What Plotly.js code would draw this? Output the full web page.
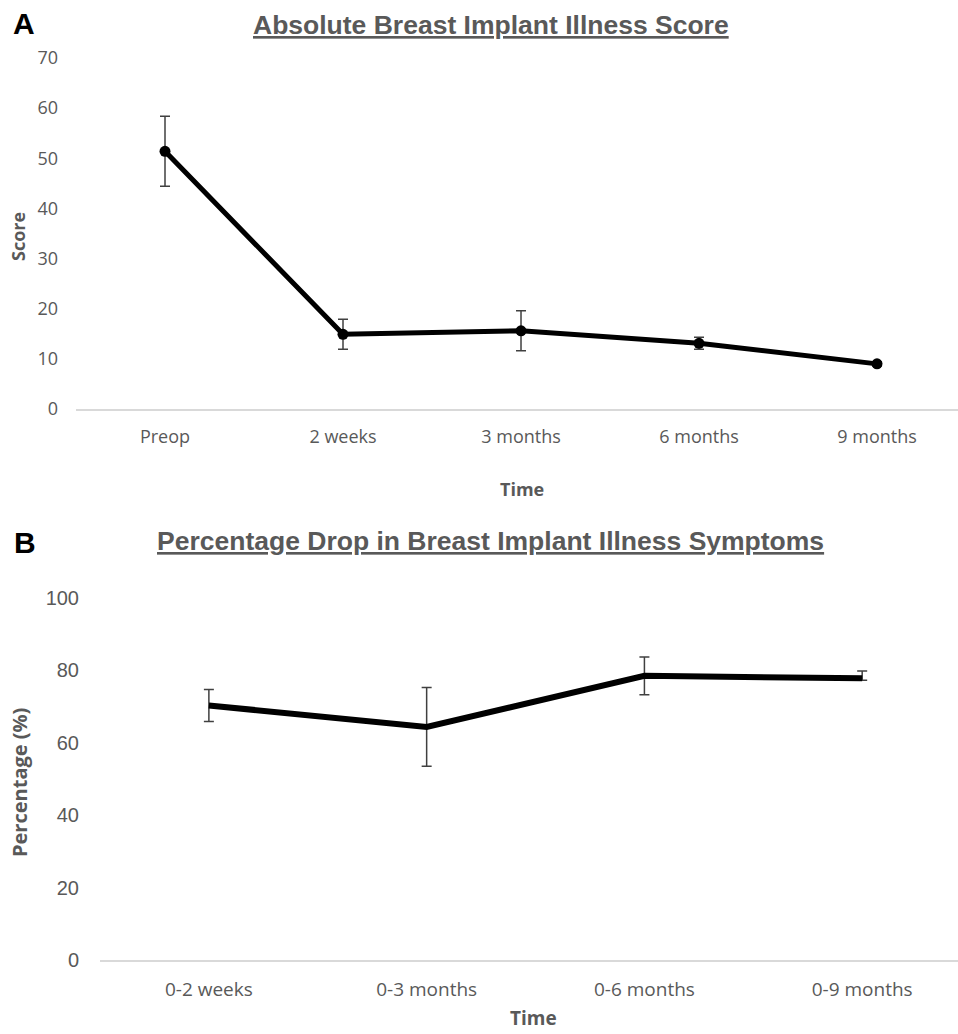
<!DOCTYPE html>
<html>
<head>
<meta charset="utf-8">
<script src="https://cdn.plot.ly/plotly-3.0.1.min.js"></script>
<style>html,body{margin:0;padding:0;background:#fff;}#chart{width:958px;height:1034px;}</style>
</head>
<body>
<div id="chart"></div>
<script>
const catsA = ['Preop', '2 weeks', '3 months', '6 months', '9 months'];
const scoreA = [51.4, 14.9, 15.6, 13.1, 9.0];
const errA = [7.0, 3.0, 4.0, 1.2, 0.4];
const ticksA = [0, 10, 20, 30, 40, 50, 60, 70];

const catsB = ['0-2 weeks', '0-3 months', '0-6 months', '0-9 months'];
const pctB = [70.3, 64.4, 78.5, 77.8];
const errBplus = [4.4, 10.9, 5.2, 2.0];
const errBminus = [4.4, 10.9, 5.2, 0.5];
const ticksB = [0, 20, 40, 60, 80, 100];

const W = 958, H = 1034;
const py = px => 1 - px / H;
const pxx = px => px / W;
const gray = '#595959';

const traces = [
  {
    x: catsA, y: scoreA, type: 'scatter', mode: 'lines+markers',
    xaxis: 'x', yaxis: 'y',
    line: {color: '#000', width: 5},
    marker: {color: '#000', size: 11},
    error_y: {type: 'data', array: errA, visible: true, color: '#404040', thickness: 1.5, width: 5},
    hoverinfo: 'skip'
  },
  {
    x: catsB, y: pctB, type: 'scatter', mode: 'lines',
    xaxis: 'x2', yaxis: 'y2',
    line: {color: '#000', width: 6},
    error_y: {type: 'data', symmetric: false, array: errBplus, arrayminus: errBminus, visible: true, color: '#404040', thickness: 1.5, width: 5},
    hoverinfo: 'skip'
  }
];

const axisCommon = {showgrid: false, zeroline: false, ticks: '', fixedrange: true};

const layout = {
  width: W, height: H,
  margin: {l: 0, r: 0, t: 0, b: 0},
  paper_bgcolor: '#fff', plot_bgcolor: '#fff',
  showlegend: false,
  xaxis: Object.assign({}, axisCommon, {
    domain: [pxx(76), 1], anchor: 'y', type: 'category',
    range: [-0.5, 4.455],
    showline: true, linecolor: '#d9d9d9', linewidth: 1.5,
    tickfont: {family: 'Open Sans', size: 18, color: gray},
    ticklabelstandoff: 11
  }),
  yaxis: Object.assign({}, axisCommon, {
    domain: [py(409), py(58)], anchor: 'x',
    range: [0, 70], tickvals: ticksA, ticktext: ticksA.map(String),
    showline: false,
    tickfont: {family: 'Open Sans', size: 18, color: gray},
    ticklabelstandoff: 17
  }),
  xaxis2: Object.assign({}, axisCommon, {
    domain: [pxx(100), 1], anchor: 'y2', type: 'category',
    range: [-0.5, 3.44],
    showline: true, linecolor: '#d9d9d9', linewidth: 1.5,
    tickfont: {family: 'Open Sans', size: 19, color: gray},
    ticklabelstandoff: 12
  }),
  yaxis2: Object.assign({}, axisCommon, {
    domain: [py(960), py(598)], anchor: 'x2',
    range: [0, 100], tickvals: ticksB, ticktext: ticksB.map(String),
    showline: false,
    tickfont: {family: 'Liberation Sans, Arial', size: 20, color: gray},
    ticklabelstandoff: 20
  }),
  annotations: [
    {text: '<b>A</b>', x: pxx(11), y: py(24), xref: 'paper', yref: 'paper', xanchor: 'left', yanchor: 'middle', showarrow: false,
     font: {family: 'Liberation Sans, Arial', size: 30, color: '#000'}},
    {text: '<b><u>Absolute Breast Implant Illness Score</u></b>', x: pxx(491), y: py(25), xref: 'paper', yref: 'paper', xanchor: 'center', yanchor: 'middle', showarrow: false,
     font: {family: 'Liberation Sans, Arial', size: 26.5, color: gray}},
    {text: '<b>Score</b>', x: pxx(18), y: py(237), xref: 'paper', yref: 'paper', xanchor: 'center', yanchor: 'middle', showarrow: false, textangle: -90,
     font: {family: 'Open Sans', size: 18, color: gray}},
    {text: '<b>Time</b>', x: pxx(522), y: py(489), xref: 'paper', yref: 'paper', xanchor: 'center', yanchor: 'middle', showarrow: false,
     font: {family: 'Open Sans', size: 18, color: gray}},
    {text: '<b>B</b>', x: pxx(12), y: py(542), xref: 'paper', yref: 'paper', xanchor: 'left', yanchor: 'middle', showarrow: false,
     font: {family: 'Liberation Sans, Arial', size: 30, color: '#000'}},
    {text: '<b><u>Percentage Drop in Breast Implant Illness Symptoms</u></b>', x: pxx(490), y: py(541), xref: 'paper', yref: 'paper', xanchor: 'center', yanchor: 'middle', showarrow: false,
     font: {family: 'Liberation Sans, Arial', size: 26.5, color: gray}},
    {text: '<b>Percentage (%)</b>', x: pxx(19), y: py(783), xref: 'paper', yref: 'paper', xanchor: 'center', yanchor: 'middle', showarrow: false, textangle: -90,
     font: {family: 'Open Sans', size: 20, color: gray}},
    {text: '<b>Time</b>', x: pxx(533), y: py(1018), xref: 'paper', yref: 'paper', xanchor: 'center', yanchor: 'middle', showarrow: false,
     font: {family: 'Open Sans', size: 19, color: gray}}
  ]
};

Plotly.newPlot('chart', traces, layout, {displayModeBar: false, staticPlot: true});
</script>
</body>
</html>
